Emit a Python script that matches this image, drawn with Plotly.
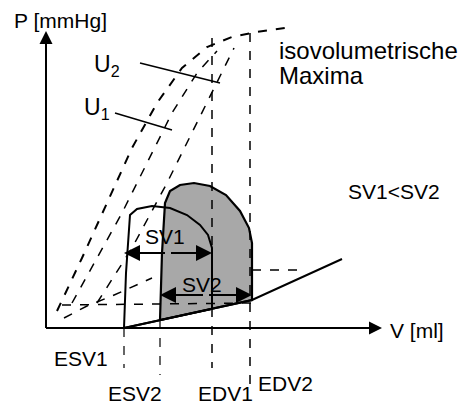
import plotly.graph_objects as go

# diagram coordinates (x: volume, y: pressure in image units, y downward)
loop2_x = [158,160,163,168,178,192,208,224,238,247,250,250,158,158]
loop2_y = [317,250,200,188,182,180,183,192,208,225,240,297,317,317]
loop1_x = [122,124,128,135,150,168,185,198,206,210,210,122]
loop1_y = [325,270,212,206,203,205,212,222,232,245,306,325]
passive_x = [122,250,340]
passive_y = [325,297,256]
dash1_x = [55,80,105,130,155,180,205,230,255,283]
dash1_y = [308,255,200,145,100,65,44,34,29,25]
dash2_x = [70,95,120,145,170,195,215]
dash2_y = [300,255,210,160,110,70,48]
dash3_x = [95,130,165,195,215,232]
dash3_y = [300,245,180,120,80,45]
low_x = [62,85,110,135,150]
low_y = [315,303,293,282,275]
hdash1_x = [60,250]; hdash1_y = [302,300]
hdash2_x = [250,300]; hdash2_y = [267,267]
v_edv1 = [35,365]; v_edv2 = [30,382]
v_esv1 = [325,365]; v_esv2 = [317,372]

fig = go.Figure()
def ln(x, y, dash="solid", w=2, **kw):
    fig.add_trace(go.Scatter(x=x, y=y, mode="lines", line=dict(color="black", width=w, dash=dash), hoverinfo="skip", **kw))

ln(loop2_x, loop2_y, w=2.2, fill="toself", fillcolor="#a8a8a8")
ln(loop1_x, loop1_y, w=2)
ln(passive_x, passive_y, w=2)
ln(dash1_x, dash1_y, "dash", 2)
ln(dash2_x, dash2_y, "dash", 1.5)
ln(dash3_x, dash3_y, "dash", 1.5)
ln(low_x, low_y, "dash", 1.5)
ln(hdash1_x, hdash1_y, "dash", 1.5)
ln(hdash2_x, hdash2_y, "dash", 1.5)
ln([210,210], v_edv1, "dash", 1.5)
ln([248,248], v_edv2, "dash", 1.5)
ln([122,122], v_esv1, "dash", 1.2)
ln([158,158], v_esv2, "dash", 1.2)
ln([44,44], [325,50], w=2)
ln([44,355], [325,325], w=2)
ln([138,218], [60,80], w=1.5)
ln([113,170], [110,127], w=1.5)

anns = []
def arrow(x0,y0,x1,y1,size=1.6):
    anns.append(dict(x=x1,y=y1,ax=x0,ay=y0,xref="x",yref="y",axref="x",ayref="y",
                     showarrow=True,arrowhead=2,arrowsize=size,arrowwidth=2,arrowcolor="black",text=" "))
arrow(44,60,44,28,1.3)
arrow(345,325,380,325,1.3)
for (a,b,y) in [(122,210,250),(158,250,292)]:
    m=(a+b)/2
    arrow(m,y,a,y); arrow(m,y,b,y)

F = "Liberation Sans, Arial"
texts = [("P [mmHg]",10,17,21),("V [ml]",386,327,21),("ESV1",50,355,21),
         ("ESV2",104,390,21),("EDV1",194,390,21),("EDV2",254,380,21),
         ("isovolumetrische",275,47,24),("Maxima",275,72,24),("SV1<SV2",344,188,21),
         ("SV1",141,233,21),("SV2",178,281,21)]
for t,x,y,s in texts:
    anns.append(dict(x=x,y=y,xref="x",yref="y",text=t,showarrow=False,xanchor="left",
                     font=dict(family=F,size=s,color="black")))
ufont = dict(family=F, size=23, color="black")
anns.append(dict(x=90,y=62,xref="x",yref="y",text="U<sub>2</sub>",showarrow=False,xanchor="left",font=ufont))
anns.append(dict(x=80,y=105,xref="x",yref="y",text="U<sub>1</sub>",showarrow=False,xanchor="left",font=ufont))

fig.update_layout(width=474, height=412, margin=dict(l=0,r=0,t=0,b=0,pad=0), showlegend=False,
                  autosize=False,
                  plot_bgcolor="white", paper_bgcolor="white", annotations=anns,
                  xaxis=dict(range=[6,480], visible=False, fixedrange=True),
                  yaxis=dict(range=[417,5], visible=False, fixedrange=True))
fig.write_html("out.html", config={"displayModeBar": False})
